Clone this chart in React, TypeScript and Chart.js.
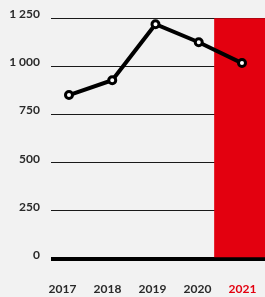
import React, { useEffect, useRef } from "react";
import { Chart, registerables } from "chart.js";

Chart.register(...registerables);

const years = [2017, 2018, 2019, 2020, 2021];
const values = [851, 928, 1219, 1125, 1017];
const highlightYears = [2021];
const highlightValues = [1250];
const yTicks = [0, 250, 500, 750, 1000, 1250];

const RED = "#e3000f";
const BG = "#f2f2f2";
const TEXT = "#2a2a2a";

const fmt = (v: number) =>
  v >= 1000 ? `${Math.floor(v / 1000)} ${String(v % 1000).padStart(3, "0")}` : String(v);

const lateLine = {
  id: "lateLine",
  beforeDatasetDraw(_chart: any, args: any) {
    if (args.index === 0) return false;
  },
  afterDraw(chart: any) {
    chart.getDatasetMeta(0).controller.draw();
  },
};

export default function App() {
  const ref = useRef<HTMLCanvasElement>(null);
  useEffect(() => {
    document.body.style.margin = "0";
    document.body.style.background = BG;
    const chart = new Chart(ref.current!, {
      type: "line",
      data: {
        datasets: [
          {
            type: "line",
            data: years.map((y, i) => ({ x: y, y: values[i] })),
            borderColor: "#000",
            borderWidth: 4,
            pointRadius: 3.5,
            pointBorderWidth: 3,
            pointBackgroundColor: "#fff",
            pointBorderColor: "#000",
            xAxisID: "x",
            yAxisID: "y",
          } as any,
          {
            type: "bar",
            data: highlightYears.map((y, i) => ({ x: y, y: highlightValues[i] })),
            backgroundColor: RED,
            barThickness: 55,
            xAxisID: "x",
            yAxisID: "y",
          } as any,
        ],
      },
      plugins: [lateLine],
      options: {
        animation: false,
        responsive: false,
        maintainAspectRatio: false,
        layout: { autoPadding: false, padding: { top: 18, left: 0, right: 0, bottom: 0 } },
        plugins: { legend: { display: false }, tooltip: { enabled: false } },
        scales: {
          x: {
            type: "linear",
            display: false,
            bounds: "data",
            offset: false,
            grid: { offset: false },
            min: 2016.584,
            max: 2021.532,
          },
          xl: {
            type: "linear",
            position: "bottom",
            bounds: "data",
            offset: false,
            min: 2016.744,
            max: 2021.5,
            afterBuildTicks: (s: any) => {
              s.ticks = years.map((v) => ({ value: v }));
            },
            afterFit: (s: any) => {
              s.height = 38;
              s.paddingLeft = 0;
              s.paddingRight = 0;
            },
            grid: { display: false, drawTicks: true, tickLength: 23 },
            border: { display: false },
            ticks: {
              autoSkip: false,
              maxRotation: 0,
              padding: 0,
              callback: (v: any) => String(v),
              color: (c: any) => (highlightYears.includes(c.tick?.value) ? RED : TEXT),
              font: { family: "Lato", size: 12, weight: "bold" },
            },
          },
          y: {
            type: "linear",
            position: "left",
            min: 0,
            max: 1250,
            z: 1,
            afterBuildTicks: (s: any) => {
              s.ticks = yTicks.map((v) => ({ value: v }));
            },
            afterFit: (s: any) => {
              s.width = 51;
            },
            border: { display: false },
            grid: {
              drawTicks: false,
              color: (c: any) => (c.tick?.value === 0 ? "#000" : "#1a1a1a"),
              lineWidth: (c: any) => (c.tick?.value === 0 ? 4 : 1),
            },
            ticks: {
              padding: 11,
              labelOffset: -4,
              color: TEXT,
              callback: (v: any) => fmt(Number(v)),
              font: { family: "Lato", size: 12, weight: "bold" },
            },
          },
        },
      } as any,
    });
    return () => chart.destroy();
  }, []);
  return (
    <div style={{ width: 265, height: 297, background: BG }}>
      <canvas ref={ref} width={265} height={297} style={{ display: "block" }} />
    </div>
  );
}
